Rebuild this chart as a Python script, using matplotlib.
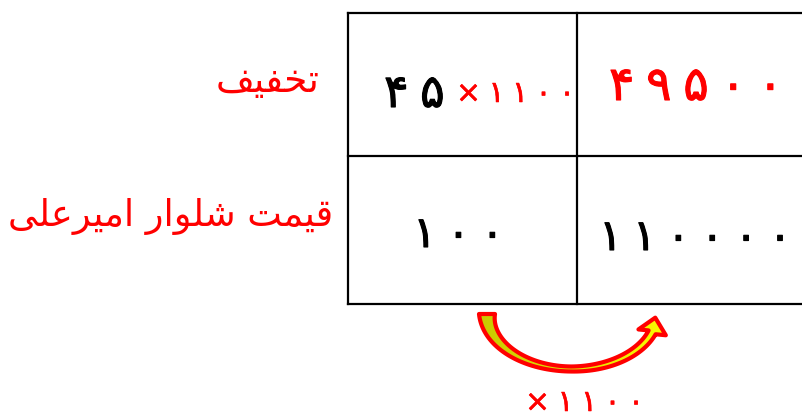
import numpy as np
import matplotlib
matplotlib.use("Agg")
import matplotlib.pyplot as plt
import matplotlib.patheffects as pe
from matplotlib.patches import Polygon
from matplotlib.colors import LinearSegmentedColormap

# row labels (Persian, pre-shaped presentation forms in visual order)
row_labels = [
    "\uFED2\uFBFF\uFED4\uFEA8\uFE97",  # تخفیف
    "\uFBFD\uFEE0\uFECB\uFEAE\uFBFF\uFEE3\uFE8D \uFEAD\uFE8D\uFEEE\uFEE0\uFEB7 \uFE96\uFEE4\uFBFF\uFED7",  # قیمت شلوار امیرعلی
]
# table cells: [row][col]
left_col = ["۴۵", "۱۰۰"]
right_col = ["۴۹۵۰۰", "۱۱۰۰۰۰"]
multiplier = "×۱۱۰۰"

SP = "\u2005"  # narrow space between digits


def spaced(s):
    return SP.join(s)


fig = plt.figure(figsize=(8.03, 4.16), dpi=100)
ax = fig.add_axes([0, 0, 1, 1])
ax.set_xlim(0, 803)
ax.set_ylim(416, 0)
ax.axis("off")

# grid
x0, xm, x1 = 348, 577, 810
y0, ym, y1 = 13, 156, 304
kw = dict(color="black", lw=1.6, solid_capstyle="projecting")
for yy in (y0, ym, y1):
    ax.plot([x0, x1], [yy, yy], **kw)
for xx in (x0, xm):
    ax.plot([xx, xx], [y0, y1], **kw)

# row labels
ax.text(268, 92, row_labels[0], color="red", fontsize=27, ha="center", va="baseline")
ax.text(171, 226, row_labels[1], color="red", fontsize=26.5, ha="center", va="baseline")


def digits(x, y, s, color, size, stroke=0.8):
    ax.text(x, y, spaced(s), color=color, fontsize=size, ha="left", va="baseline",
            path_effects=[pe.withStroke(linewidth=stroke, foreground=color)])


# cells
digits(384, 107, left_col[0], "black", 33)
digits(456, 102, multiplier, "red", 21.5, 0.4)
digits(609, 100, right_col[0], "red", 34)
digits(413, 247, left_col[1], "black", 31)
digits(599, 250, right_col[1], "black", 31)

# curved arrow under the table (half ellipse shaft + head)
cx, cy, a, b = 572, 314, 85, 55
t = np.linspace(np.pi, 0.34, 80)
s = np.linspace(0, 1, t.size)
px, py = cx + a * np.cos(t), cy + b * np.sin(t)
tx, ty = a * np.sin(t), -b * np.cos(t)
nrm = np.hypot(tx, ty)
nx, ny = ty / nrm, -tx / nrm
w = np.where(s < 0.56, 2.5 + 5.5 * (1 - s / 0.56) ** 2, 2.5 + 1.5 * (s - 0.56) / 0.44)
side1 = np.column_stack([px + w * nx, py + w * ny])
side2 = np.column_stack([px - w * nx, py - w * ny])
ang = np.deg2rad(78)
hd = np.array([np.cos(ang), -np.sin(ang)])
hq = np.array([-hd[1], hd[0]])
if hq @ np.array([nx[-1], ny[-1]]) < 0:
    hq = -hq
pend = np.array([px[-1], py[-1]])
hw, hl = 14, 15
head = [pend + hw * hq, pend + hl * hd, pend - hw * hq]
verts = np.vstack([side1, head, side2[::-1]])
arrow = Polygon(verts, closed=True, facecolor="none", edgecolor="red", lw=3,
                joinstyle="round", zorder=3)
ax.add_patch(arrow)
grad = np.linspace(0, 1, 100).reshape(1, -1)
cmap = LinearSegmentedColormap.from_list("y", ["#c8c800", "#ffff00"])
im = ax.imshow(grad, extent=(475, 680, 380, 305), cmap=cmap, aspect="auto", zorder=2)
clip = Polygon(verts, closed=True, facecolor="none", edgecolor="none", transform=ax.transData)
im.set_clip_path(clip)
ax.set_xlim(0, 803)
ax.set_ylim(416, 0)

digits(525, 411, multiplier, "red", 21.5, 0.4)

fig.savefig("out.png", dpi=100)
